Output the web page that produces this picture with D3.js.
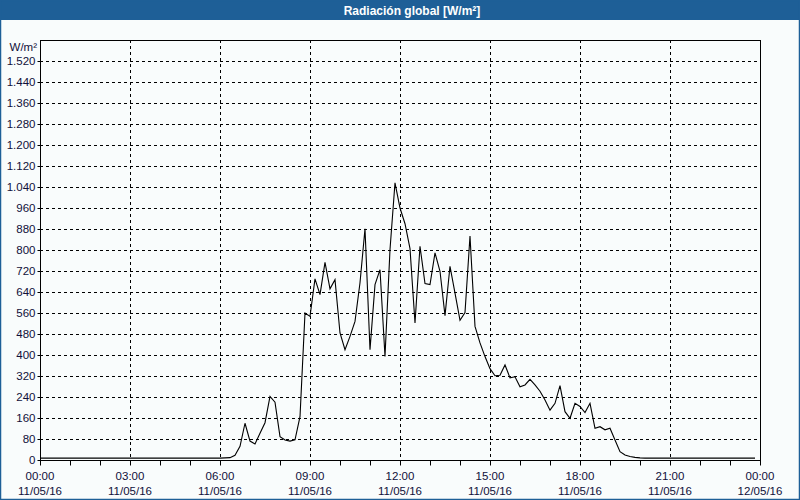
<!DOCTYPE html>
<html><head><meta charset="utf-8">
<script src="https://cdn.jsdelivr.net/npm/d3@7"></script>
<style>
html,body{margin:0;padding:0;background:#f9fcfc;}
svg{display:block;}
</style></head>
<body>
<svg id="c" width="800" height="500"></svg>
<script>
const title = "Radiación global [W/m²]";
const unitLabel = "W/m²";
const yTicks = [0,80,160,240,320,400,480,560,640,720,800,880,960,1040,1120,1200,1280,1360,1440,1520];
const xTickHours = [0,3,6,9,12,15,18,21,24];
const xTickTimes = ["00:00","03:00","06:00","09:00","12:00","15:00","18:00","21:00","00:00"];
const xTickDates = ["11/05/16","11/05/16","11/05/16","11/05/16","11/05/16","11/05/16","11/05/16","11/05/16","12/05/16"];
// 10-minute samples from 00:00 to 23:50
const radiation = [
  7,7,7,7,7,7, 7,7,7,7,7,7, 7,7,7,7,7,7,           // 00:00-02:50
  7,7,7,7,7,7, 7,7,7,7,7,7, 7,7,7,7,7,7,           // 03:00-05:50
  7,8,9,18,52,140, 72,61,102,142,242,220,          // 06:00-07:50
  89,76,72,77,165,560, 547,690,630,753,652,687,     // 08:00-09:50
  484,420,471,528,675,881, 420,668,725,394,802,1056,// 10:00-11:50
  960,900,805,522,814,672, 668,789,719,550,738,636, // 12:00-13:50
  532,562,853,509,446,394, 348,321,323,362,313,317, // 14:00-15:50
  279,286,307,286,262,229, 190,216,283,184,159,216, // 16:00-17:50
  204,181,216,121,127,115, 121,76,32,19,13,10,      // 18:00-19:50
  8,7,7,7,7,7, 7,7,7,7,7,7,                        // 20:00-21:50
  7,7,7,7,7,7, 7,7,7,7,7,7                         // 22:00-23:50
];

const svg = d3.select("#c");
const W = 800, H = 500;
const m = {l:40, r:760, t:40, b:460};
const font = "'Liberation Sans', Arial, sans-serif";
const textCol = "#10103a";

svg.append("rect").attr("x",0).attr("y",0).attr("width",W).attr("height",H).attr("fill","#f9fcfc");
// title bar
svg.append("rect").attr("x",0).attr("y",0).attr("width",W).attr("height",20).attr("fill","#1e5f97");
svg.append("text").attr("x",412).attr("y",14.5).attr("text-anchor","middle")
  .attr("fill","#ffffff").attr("font-family",font).attr("font-size","12px").attr("font-weight","bold")
  .text(title);
// window border
svg.append("rect").attr("x",0.5).attr("y",0.5).attr("width",W-1).attr("height",H-1)
  .attr("fill","none").attr("stroke","#1e5f97").attr("stroke-width",1.5);

const x = d3.scaleLinear().domain([0,24]).range([m.l,m.r]);
const y = d3.scaleLinear().domain([0,1600]).range([m.b,m.t]);
const loc = d3.formatLocale({decimal:",", thousands:".", grouping:[3], currency:["","€"]});
const fmt = loc.format(",d");

// grid
const g = svg.append("g");
g.selectAll("line.hg").data(yTicks.filter(v=>v>0)).join("line")
  .attr("x1",m.l).attr("x2",m.r).attr("y1",d=>Math.round(y(d))+0.5).attr("y2",d=>Math.round(y(d))+0.5)
  .attr("stroke","#000").attr("stroke-width",1).attr("stroke-dasharray","3,3").attr("shape-rendering","crispEdges");
g.selectAll("line.vg").data(xTickHours.filter(h=>h>0&&h<24)).join("line")
  .attr("x1",d=>Math.round(x(d))+0.5).attr("x2",d=>Math.round(x(d))+0.5).attr("y1",m.t).attr("y2",m.b)
  .attr("stroke","#000").attr("stroke-width",1).attr("stroke-dasharray","3,3").attr("shape-rendering","crispEdges");

// y axis
const yAxis = d3.axisLeft(y).tickValues(yTicks).tickFormat(fmt).tickSize(3).tickPadding(2);
const ya = svg.append("g").attr("transform",`translate(${m.l+0.5},0)`).call(yAxis);
ya.select(".domain").remove();
ya.selectAll("line").attr("stroke","#000");
ya.selectAll("text").attr("font-family",font).attr("font-size","11.5px").attr("fill",textCol);

// x axis minor ticks (hourly)
const hours = d3.range(0,25);
const xAxis = d3.axisBottom(x).tickValues(hours).tickSize(5).tickFormat("");
const xa = svg.append("g").attr("transform",`translate(0,${m.b+0.5})`).call(xAxis);
xa.select(".domain").remove();
xa.selectAll("line").attr("stroke","#000");

// x labels
const xl = svg.append("g");
xl.selectAll("text.t").data(xTickHours).join("text")
  .attr("x",d=>x(d)).attr("y",480).attr("text-anchor","middle")
  .attr("font-family",font).attr("font-size","11.5px").attr("fill",textCol)
  .text((d,i)=>xTickTimes[i]);
xl.selectAll("text.d").data(xTickHours).join("text")
  .attr("x",d=>x(d)).attr("y",494.5).attr("text-anchor","middle")
  .attr("font-family",font).attr("font-size","11.5px").attr("fill",textCol)
  .text((d,i)=>xTickDates[i]);

// unit label
svg.append("text").attr("x",37).attr("y",51).attr("text-anchor","end")
  .attr("font-family",font).attr("font-size","11.5px").attr("fill",textCol).text(unitLabel);

// frame
svg.append("rect").attr("x",m.l+0.5).attr("y",m.t+0.5).attr("width",m.r-m.l).attr("height",m.b-m.t)
  .attr("fill","none").attr("stroke","#000").attr("stroke-width",1).attr("shape-rendering","crispEdges");

// data line
const line = d3.line().x((d,i)=>x(i/6)).y(d=>y(d));
svg.append("path").datum(radiation).attr("d",line)
  .attr("fill","none").attr("stroke","#000").attr("stroke-width",1.1);
</script>
</body></html>
